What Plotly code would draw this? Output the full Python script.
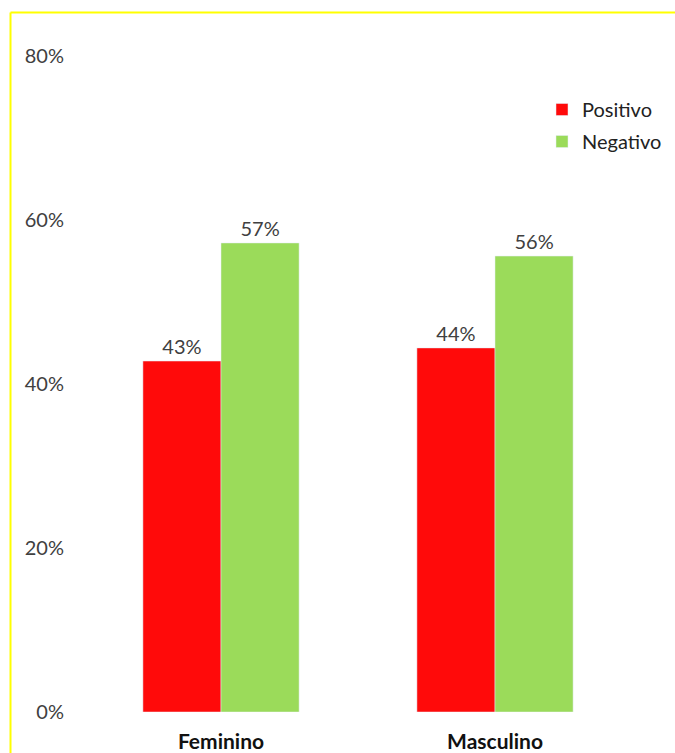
import plotly.graph_objects as go

categories = ["Feminino", "Masculino"]
positivo = [42.8, 44.4]
negativo = [57.2, 55.6]
y_ticks = [0, 20, 40, 60, 80]
y_tick_labels = ["0%", "20%", "40%", "60%", "80%"]

FONT = "Lato, 'Liberation Sans', sans-serif"
TXT = "#404040"

fig = go.Figure()
fig.add_trace(go.Bar(
    x=categories, y=positivo, name="Positivo", marker_color="#ff0a0a",
    texttemplate="%{y:.0f}%", textposition="outside",
    textfont=dict(size=20, color=TXT, family=FONT), cliponaxis=False,
    legendgroup="p",
))
fig.add_trace(go.Bar(
    x=categories, y=negativo, name="Negativo", marker_color="#9bdb5a",
    texttemplate="%{y:.0f}%", textposition="outside",
    textfont=dict(size=20, color=TXT, family=FONT), cliponaxis=False,
    legendgroup="n",
))

W, H = 675, 753
L, R, T, B = 84, 43, 56, 41
pw, ph = W - L - R, H - T - B

def px_x(x):
    return (x - L) / pw

def px_y(y):
    return (H - B - y) / ph

fig.update_layout(
    width=W, height=H,
    margin=dict(l=L, r=R, t=T, b=B, pad=0, autoexpand=False),
    paper_bgcolor="white", plot_bgcolor="white",
    barmode="group", bargap=0.43, bargroupgap=0,
    font=dict(family=FONT, size=20, color=TXT),
    showlegend=True,
    legend=dict(
        x=px_x(542), y=px_y(90), xanchor="left", yanchor="top",
        font=dict(size=20, color="#222222", family=FONT),
        tracegroupgap=3, bgcolor="rgba(0,0,0,0)",
    ),
    xaxis=dict(
        showgrid=False, showline=False, zeroline=False, ticks="",
        tickfont=dict(size=21, color="#111111", family=FONT, weight="bold"),
        ticklabelstandoff=15, automargin=False,
    ),
    yaxis=dict(
        range=[0, 80], tickvals=y_ticks, ticktext=y_tick_labels,
        showgrid=False, showline=False, zeroline=False, ticks="",
        tickfont=dict(size=20, color=TXT, family=FONT),
        ticklabelstandoff=19, automargin=False,
    ),
    shapes=[
        dict(type="line", xref="paper", yref="paper",
             x0=px_x(10.5), x1=px_x(700), y0=px_y(12.5), y1=px_y(12.5),
             line=dict(color="#ffff00", width=2)),
        dict(type="line", xref="paper", yref="paper",
             x0=px_x(10.5), x1=px_x(10.5), y0=px_y(12.5), y1=px_y(800),
             line=dict(color="#ffff00", width=2)),
    ],
)

fig.write_html(
    "out.html",
    config={"displayModeBar": False, "staticPlot": True},
    post_script="document.body.style.margin='0px';document.body.style.overflow='hidden';",
)
